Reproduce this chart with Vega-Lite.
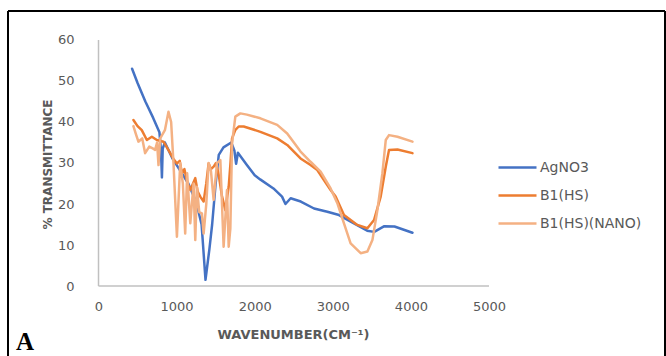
{
  "$schema": "https://vega.github.io/schema/vega-lite/v6.json",
  "width": 657,
  "height": 345,
  "autosize": {"type": "none"},
  "padding": {"left": 8, "top": 11, "right": 1, "bottom": 0},
  "background": "white",
  "config": {
    "view": {"stroke": null},
    "axis": {"grid": false, "domain": false, "ticks": false, "tickSize": 0, "labelFont": "DejaVu Sans", "labelFontSize": 13, "labelColor": "#595959", "titleFont": "DejaVu Sans", "titleColor": "#595959", "titleFontWeight": "bold", "labelFlush": false, "labelOverlap": false}
  },
  "datasets": {
    "spectra": [
      {"series": "AgNO3", "wn": 430, "T": 53},
      {"series": "AgNO3", "wn": 500, "T": 49.5},
      {"series": "AgNO3", "wn": 600, "T": 45},
      {"series": "AgNO3", "wn": 700, "T": 41},
      {"series": "AgNO3", "wn": 780, "T": 37.5},
      {"series": "AgNO3", "wn": 800, "T": 33},
      {"series": "AgNO3", "wn": 812, "T": 26.5},
      {"series": "AgNO3", "wn": 822, "T": 33.5},
      {"series": "AgNO3", "wn": 850, "T": 35},
      {"series": "AgNO3", "wn": 950, "T": 31},
      {"series": "AgNO3", "wn": 1050, "T": 28},
      {"series": "AgNO3", "wn": 1150, "T": 25},
      {"series": "AgNO3", "wn": 1250, "T": 20.5},
      {"series": "AgNO3", "wn": 1320, "T": 15},
      {"series": "AgNO3", "wn": 1370, "T": 1.5},
      {"series": "AgNO3", "wn": 1420, "T": 9},
      {"series": "AgNO3", "wn": 1455, "T": 15},
      {"series": "AgNO3", "wn": 1500, "T": 25},
      {"series": "AgNO3", "wn": 1540, "T": 32},
      {"series": "AgNO3", "wn": 1600, "T": 33.8},
      {"series": "AgNO3", "wn": 1700, "T": 35},
      {"series": "AgNO3", "wn": 1740, "T": 33},
      {"series": "AgNO3", "wn": 1762, "T": 29.8},
      {"series": "AgNO3", "wn": 1785, "T": 32.5},
      {"series": "AgNO3", "wn": 1900, "T": 29.5},
      {"series": "AgNO3", "wn": 2000, "T": 27},
      {"series": "AgNO3", "wn": 2070, "T": 26},
      {"series": "AgNO3", "wn": 2240, "T": 23.8},
      {"series": "AgNO3", "wn": 2350, "T": 21.8},
      {"series": "AgNO3", "wn": 2394, "T": 20},
      {"series": "AgNO3", "wn": 2460, "T": 21.4},
      {"series": "AgNO3", "wn": 2590, "T": 20.6},
      {"series": "AgNO3", "wn": 2760, "T": 18.9},
      {"series": "AgNO3", "wn": 2930, "T": 18.1},
      {"series": "AgNO3", "wn": 3080, "T": 17.3},
      {"series": "AgNO3", "wn": 3230, "T": 15.7},
      {"series": "AgNO3", "wn": 3440, "T": 13.5},
      {"series": "AgNO3", "wn": 3530, "T": 13.2},
      {"series": "AgNO3", "wn": 3660, "T": 14.6},
      {"series": "AgNO3", "wn": 3790, "T": 14.5},
      {"series": "AgNO3", "wn": 4020, "T": 13},
      {"series": "B1(HS)", "wn": 447, "T": 40.5},
      {"series": "B1(HS)", "wn": 500, "T": 39},
      {"series": "B1(HS)", "wn": 554, "T": 38},
      {"series": "B1(HS)", "wn": 619, "T": 35.6},
      {"series": "B1(HS)", "wn": 683, "T": 36.4},
      {"series": "B1(HS)", "wn": 747, "T": 35.6},
      {"series": "B1(HS)", "wn": 832, "T": 35.2},
      {"series": "B1(HS)", "wn": 900, "T": 33},
      {"series": "B1(HS)", "wn": 960, "T": 31},
      {"series": "B1(HS)", "wn": 1004, "T": 29.9},
      {"series": "B1(HS)", "wn": 1040, "T": 30.5},
      {"series": "B1(HS)", "wn": 1068, "T": 27.5},
      {"series": "B1(HS)", "wn": 1100, "T": 28.5},
      {"series": "B1(HS)", "wn": 1140, "T": 25},
      {"series": "B1(HS)", "wn": 1175, "T": 23.4},
      {"series": "B1(HS)", "wn": 1239, "T": 26.3},
      {"series": "B1(HS)", "wn": 1270, "T": 23},
      {"series": "B1(HS)", "wn": 1303, "T": 21.8},
      {"series": "B1(HS)", "wn": 1346, "T": 20.6},
      {"series": "B1(HS)", "wn": 1380, "T": 25},
      {"series": "B1(HS)", "wn": 1410, "T": 29.9},
      {"series": "B1(HS)", "wn": 1440, "T": 28.5},
      {"series": "B1(HS)", "wn": 1474, "T": 29.1},
      {"series": "B1(HS)", "wn": 1505, "T": 30},
      {"series": "B1(HS)", "wn": 1540, "T": 27},
      {"series": "B1(HS)", "wn": 1580, "T": 22},
      {"series": "B1(HS)", "wn": 1624, "T": 18.5},
      {"series": "B1(HS)", "wn": 1650, "T": 22},
      {"series": "B1(HS)", "wn": 1667, "T": 24.2},
      {"series": "B1(HS)", "wn": 1690, "T": 30},
      {"series": "B1(HS)", "wn": 1710, "T": 36},
      {"series": "B1(HS)", "wn": 1750, "T": 38},
      {"series": "B1(HS)", "wn": 1795, "T": 38.9},
      {"series": "B1(HS)", "wn": 1859, "T": 38.9},
      {"series": "B1(HS)", "wn": 2073, "T": 37.6},
      {"series": "B1(HS)", "wn": 2288, "T": 36},
      {"series": "B1(HS)", "wn": 2416, "T": 34.4},
      {"series": "B1(HS)", "wn": 2587, "T": 31.1},
      {"series": "B1(HS)", "wn": 2715, "T": 29.5},
      {"series": "B1(HS)", "wn": 2801, "T": 28.3},
      {"series": "B1(HS)", "wn": 2929, "T": 24.6},
      {"series": "B1(HS)", "wn": 2972, "T": 23.4},
      {"series": "B1(HS)", "wn": 3036, "T": 21.8},
      {"series": "B1(HS)", "wn": 3143, "T": 17.3},
      {"series": "B1(HS)", "wn": 3314, "T": 14.9},
      {"series": "B1(HS)", "wn": 3443, "T": 14.1},
      {"series": "B1(HS)", "wn": 3528, "T": 16.1},
      {"series": "B1(HS)", "wn": 3613, "T": 21.8},
      {"series": "B1(HS)", "wn": 3678, "T": 29.1},
      {"series": "B1(HS)", "wn": 3720, "T": 33.2},
      {"series": "B1(HS)", "wn": 3828, "T": 33.3},
      {"series": "B1(HS)", "wn": 4020, "T": 32.4},
      {"series": "B1(HS)(NANO)", "wn": 447, "T": 39},
      {"series": "B1(HS)(NANO)", "wn": 480, "T": 37},
      {"series": "B1(HS)(NANO)", "wn": 511, "T": 35.2},
      {"series": "B1(HS)(NANO)", "wn": 560, "T": 36},
      {"series": "B1(HS)(NANO)", "wn": 597, "T": 32.4},
      {"series": "B1(HS)(NANO)", "wn": 650, "T": 34},
      {"series": "B1(HS)(NANO)", "wn": 700, "T": 33.5},
      {"series": "B1(HS)(NANO)", "wn": 725, "T": 33.2},
      {"series": "B1(HS)(NANO)", "wn": 750, "T": 35},
      {"series": "B1(HS)(NANO)", "wn": 768, "T": 29.5},
      {"series": "B1(HS)(NANO)", "wn": 790, "T": 36},
      {"series": "B1(HS)(NANO)", "wn": 850, "T": 38},
      {"series": "B1(HS)(NANO)", "wn": 896, "T": 42.5},
      {"series": "B1(HS)(NANO)", "wn": 930, "T": 40},
      {"series": "B1(HS)(NANO)", "wn": 960, "T": 30},
      {"series": "B1(HS)(NANO)", "wn": 1004, "T": 12},
      {"series": "B1(HS)(NANO)", "wn": 1046, "T": 30},
      {"series": "B1(HS)(NANO)", "wn": 1080, "T": 25},
      {"series": "B1(HS)(NANO)", "wn": 1110, "T": 12.8},
      {"series": "B1(HS)(NANO)", "wn": 1135, "T": 27.5},
      {"series": "B1(HS)(NANO)", "wn": 1175, "T": 15.3},
      {"series": "B1(HS)(NANO)", "wn": 1217, "T": 25},
      {"series": "B1(HS)(NANO)", "wn": 1239, "T": 11.2},
      {"series": "B1(HS)(NANO)", "wn": 1260, "T": 24.2},
      {"series": "B1(HS)(NANO)", "wn": 1290, "T": 18},
      {"series": "B1(HS)(NANO)", "wn": 1324, "T": 17.7},
      {"series": "B1(HS)(NANO)", "wn": 1346, "T": 12.8},
      {"series": "B1(HS)(NANO)", "wn": 1380, "T": 20},
      {"series": "B1(HS)(NANO)", "wn": 1410, "T": 30},
      {"series": "B1(HS)(NANO)", "wn": 1440, "T": 28},
      {"series": "B1(HS)(NANO)", "wn": 1474, "T": 21},
      {"series": "B1(HS)(NANO)", "wn": 1517, "T": 30},
      {"series": "B1(HS)(NANO)", "wn": 1560, "T": 30.7},
      {"series": "B1(HS)(NANO)", "wn": 1602, "T": 9.6},
      {"series": "B1(HS)(NANO)", "wn": 1645, "T": 23.4},
      {"series": "B1(HS)(NANO)", "wn": 1667, "T": 9.6},
      {"series": "B1(HS)(NANO)", "wn": 1688, "T": 14},
      {"series": "B1(HS)(NANO)", "wn": 1710, "T": 34.8},
      {"series": "B1(HS)(NANO)", "wn": 1752, "T": 41.3},
      {"series": "B1(HS)(NANO)", "wn": 1816, "T": 42.1},
      {"series": "B1(HS)(NANO)", "wn": 1900, "T": 41.8},
      {"series": "B1(HS)(NANO)", "wn": 2073, "T": 40.9},
      {"series": "B1(HS)(NANO)", "wn": 2288, "T": 39.3},
      {"series": "B1(HS)(NANO)", "wn": 2416, "T": 37.2},
      {"series": "B1(HS)(NANO)", "wn": 2587, "T": 32.8},
      {"series": "B1(HS)(NANO)", "wn": 2715, "T": 30.3},
      {"series": "B1(HS)(NANO)", "wn": 2844, "T": 27.9},
      {"series": "B1(HS)(NANO)", "wn": 2972, "T": 23.8},
      {"series": "B1(HS)(NANO)", "wn": 3058, "T": 20.2},
      {"series": "B1(HS)(NANO)", "wn": 3143, "T": 15.3},
      {"series": "B1(HS)(NANO)", "wn": 3228, "T": 10.4},
      {"series": "B1(HS)(NANO)", "wn": 3357, "T": 8},
      {"series": "B1(HS)(NANO)", "wn": 3443, "T": 8.4},
      {"series": "B1(HS)(NANO)", "wn": 3507, "T": 11.2},
      {"series": "B1(HS)(NANO)", "wn": 3571, "T": 18.5},
      {"series": "B1(HS)(NANO)", "wn": 3635, "T": 27.5},
      {"series": "B1(HS)(NANO)", "wn": 3678, "T": 35.6},
      {"series": "B1(HS)(NANO)", "wn": 3720, "T": 36.8},
      {"series": "B1(HS)(NANO)", "wn": 3828, "T": 36.4},
      {"series": "B1(HS)(NANO)", "wn": 4020, "T": 35.2}
    ],
    "axisLines": [
      {"wn": 0, "wn2": 5000, "T": 0, "T2": 0},
      {"wn": 0, "wn2": 0, "T": 0, "T2": 60}
    ],
    "panel": [
      {"label": "A", "wn": -1056, "T": -15.6}
    ]
  },
  "layer": [
    {
      "data": {"name": "axisLines"},
      "mark": {"type": "rule", "color": "#c0c0c0", "strokeWidth": 1.5},
      "encoding": {
        "x": {"field": "wn", "type": "quantitative", "scale": {"domain": [-1158.8, 7253.5], "nice": false, "zero": false},
          "axis": {"values": [0, 1000, 2000, 3000, 4000, 5000], "format": "d", "offset": -70, "labelPadding": 14,
            "title": "WAVENUMBER(CM⁻¹)", "titleFontSize": 13, "titleX": 285, "titleY": 48, "titleAlign": "center", "titleBaseline": "middle"}},
        "x2": {"field": "wn2"},
        "y": {"field": "T", "type": "quantitative", "scale": {"domain": [-17.07, 67.07], "nice": false, "zero": false},
          "axis": {"values": [0, 10, 20, 30, 40, 50, 60], "format": "d", "offset": -91, "labelPadding": 25,
            "title": "% TRANSMITTANCE", "titleFontSize": 12, "titleX": -52, "titleY": 153, "titleAngle": -90, "titleAlign": "center", "titleBaseline": "middle"}},
        "y2": {"field": "T2"}
      }
    },
    {
      "data": {"name": "spectra"},
      "mark": {"type": "line", "strokeWidth": 2.5, "strokeJoin": "round", "strokeCap": "round"},
      "encoding": {
        "x": {"field": "wn", "type": "quantitative"},
        "y": {"field": "T", "type": "quantitative"},
        "color": {"field": "series", "type": "nominal",
          "scale": {"domain": ["AgNO3", "B1(HS)", "B1(HS)(NANO)"], "range": ["#4472C4", "#ED7D31", "#F4B183"]},
          "legend": {"orient": "none", "legendX": 489, "legendY": 136, "title": null, "padding": 0,
            "symbolType": "stroke", "symbolSize": 1444, "symbolStrokeWidth": 2.5, "labelOffset": 2,
            "labelFont": "DejaVu Sans", "labelFontSize": 14, "labelColor": "#595959", "rowPadding": 0}}
      }
    },
    {
      "data": {"name": "panel"},
      "mark": {"type": "text", "align": "left", "baseline": "alphabetic", "font": "Liberation Serif", "fontWeight": "bold", "fontSize": 25, "color": "black"},
      "encoding": {
        "x": {"field": "wn", "type": "quantitative"},
        "y": {"field": "T", "type": "quantitative"},
        "text": {"field": "label"}
      }
    },
    {
      "data": {"values": [{}]},
      "mark": {"type": "rule", "color": "black", "strokeWidth": 2},
      "encoding": {"y": {"datum": 67.07, "type": "quantitative"}}
    },
    {
      "data": {"values": [{}]},
      "mark": {"type": "rule", "color": "black", "strokeWidth": 2},
      "encoding": {"x": {"datum": -1158.8, "type": "quantitative"}}
    },
    {
      "data": {"values": [{}]},
      "mark": {"type": "rule", "color": "black", "strokeWidth": 2},
      "encoding": {"x": {"datum": 7253.5, "type": "quantitative"}}
    }
  ]
}
